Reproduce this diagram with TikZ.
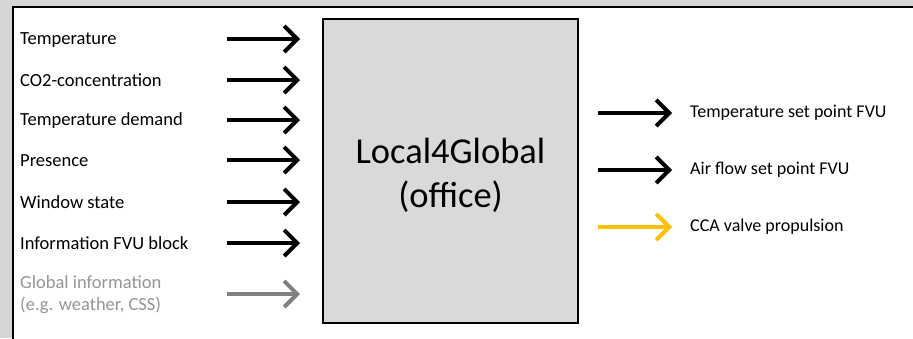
\documentclass[tikz,border=0pt]{standalone}
\usepackage{fontspec}
\setmainfont{Carlito}
\usetikzlibrary{arrows.meta}
\definecolor{bggray}{RGB}{214,214,214}
\definecolor{boxgray}{RGB}{217,217,217}
\definecolor{txtgray}{RGB}{150,150,150}
\definecolor{arrgray}{RGB}{128,128,128}
\definecolor{gold}{RGB}{255,192,0}
\tikzset{
  inlabel/.style={anchor=west, inner sep=0pt, font=\fontsize{18.5}{20}\selectfont},
  outlabel/.style={anchor=west, inner sep=0pt, font=\fontsize{18}{20}\selectfont},
  flow/.style={line width=4pt, -{Straight Barb[length=13pt,width=26pt]}},
}
\begin{document}
\begin{tikzpicture}[x=1pt,y=-1pt]
\useasboundingbox (0,0) rectangle (913,338);
\fill[bggray] (0,0) rectangle (913,338);
\fill[white] (13,7) rectangle (920,345);
\draw[line width=2pt] (920,7) -- (13,7) -- (13,345);
\node[draw, line width=2pt, fill=boxgray, minimum width=255pt, minimum height=304pt, inner sep=0pt] (core) at (450.5,171) {};
\node[align=center, inner sep=0pt, font=\fontsize{36.5}{44}\selectfont] (corelabel) at (450.5,175) {Local4Global\\(office)};
% inputs
\node[inlabel] (i1) at (20,40) {Temperature};
\node[inlabel] (i2) at (20,80) {CO2-concentration};
\node[inlabel] (i3) at (20,121) {Temperature demand};
\node[inlabel] (i4) at (20,161) {Presence};
\node[inlabel] (i5) at (20,202) {Window state};
\node[inlabel] (i6) at (20,243) {Information FVU block};
\node[inlabel, text=txtgray, align=left, font=\fontsize{18.5}{22}\selectfont] (i7) at (20,295) {Global information\\(e.g. weather, CSS)};
\foreach \n/\y in {1/39,2/80,3/120,4/160,5/202,6/243,7/294}{
  \coordinate (a\n) at (227,\y);
  \coordinate (b\n) at (300,\y);
}
\foreach \n in {1,...,6}{ \draw[flow] (a\n) -- (b\n); }
\draw[flow, arrgray] (a7) -- (b7);
% outputs
\coordinate (c1) at (598,113); \coordinate (d1) at (672,113);
\coordinate (c2) at (598,170); \coordinate (d2) at (672,170);
\coordinate (c3) at (598,227); \coordinate (d3) at (672,227);
\draw[flow] (c1) -- (d1);
\draw[flow] (c2) -- (d2);
\draw[flow, gold] (c3) -- (d3);
\node[outlabel] (o1) at (690,113) {Temperature set point FVU};
\node[outlabel] (o2) at (690,170) {Air flow set point FVU};
\node[outlabel] (o3) at (690,227) {CCA valve propulsion};
\end{tikzpicture}
\end{document}
